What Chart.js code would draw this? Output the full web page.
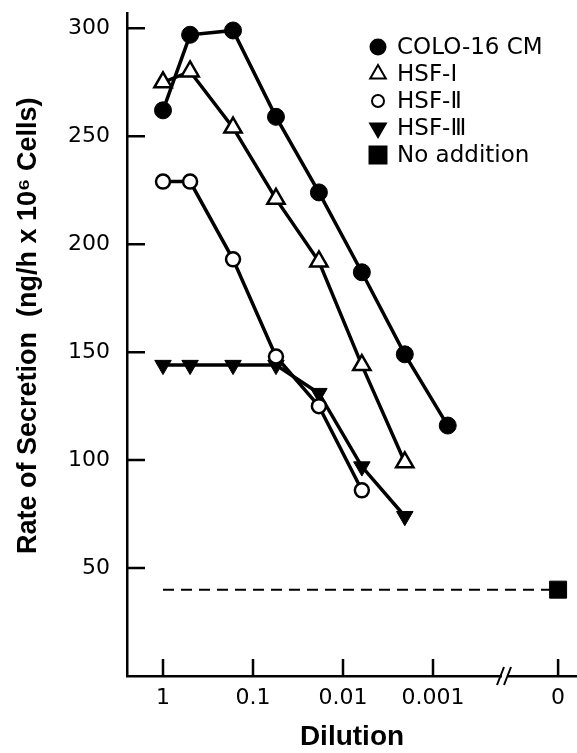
<!DOCTYPE html>
<html>
<head>
<meta charset="utf-8">
<script src="https://cdn.jsdelivr.net/npm/chart.js@4"></script>
<style>
  html, body { margin: 0; padding: 0; background: #fff; }
  canvas { display: block; }
</style>
</head>
<body>
<canvas id="secretionChart" width="577" height="753"></canvas>
<script>
// dilution steps: 1, 1:2, then threefold
const dilutions = [1, 1/2, 1/6, 1/18, 1/54, 1/162, 1/486, 1/1458];
const colo16 = [262, 297, 299, 259, 224, 187, 149, 116];
const hsf1 = [275, 280, 254, 221, 192, 144, 99];
const hsf2 = [229, 229, 193, 148, 125, 86];
const hsf3 = [144, 144, 144, 144, 131, 97, 74];
const noAddition = 40;

const xTickDilutions = [1, 0.1, 0.01, 0.001, 0];
const xTickLabels = ['1', '0.1', '0.01', '0.001', '0'];
const yTicks = [50, 100, 150, 200, 250, 300];

// axis is broken before the "0" dilution
const ZERO_POS = 4.39;
const BREAK_POS = 3.8;

function toX(d) { return d === 0 ? ZERO_POS : -Math.log10(d); }
function pts(values) { return values.map((v, i) => ({ x: toX(dilutions[i]), y: v })); }

const tickFont = { family: 'DejaVu Sans', size: 22 };
const legendFont = '23px "DejaVu Sans"';

const innerTicks = {
  id: 'innerTicks',
  afterDraw(chart) {
    const ctx = chart.ctx;
    const x = chart.scales.x, y = chart.scales.y;
    ctx.save();
    ctx.strokeStyle = '#000';
    ctx.lineWidth = 2.5;
    ctx.beginPath();
    x.ticks.forEach(t => {
      const px = x.getPixelForValue(t.value);
      ctx.moveTo(px, y.bottom);
      ctx.lineTo(px, y.bottom - 17);
    });
    y.ticks.forEach(t => {
      const py = y.getPixelForValue(t.value);
      ctx.moveTo(x.left, py);
      ctx.lineTo(x.left + 18, py);
    });
    ctx.stroke();

    // axis break "//"
    const bx = x.getPixelForValue(BREAK_POS), b = y.bottom;
    ctx.fillStyle = '#fff';
    ctx.fillRect(bx - 3, b - 3, 6, 6);
    ctx.lineWidth = 2;
    ctx.beginPath();
    ctx.moveTo(bx - 8, b + 9); ctx.lineTo(bx - 1, b - 9);
    ctx.moveTo(bx - 1, b + 9); ctx.lineTo(bx + 6, b - 9);
    ctx.stroke();
    ctx.restore();
  }
};

const boxLegend = {
  id: 'boxLegend',
  afterDraw(chart) {
    const ctx = chart.ctx;
    ctx.save();
    ctx.font = legendFont;
    ctx.textBaseline = 'middle';
    ctx.textAlign = 'left';
    chart.data.datasets.forEach((ds, i) => {
      const cy = 47 + i * 27;
      ctx.fillStyle = ds.pointBackgroundColor;
      ctx.strokeStyle = '#000';
      ctx.lineWidth = 2;
      Chart.helpers.drawPoint(ctx, {
        pointStyle: ds.pointStyle,
        rotation: ds.pointRotation || 0,
        radius: ds.legendRadius,
        borderWidth: 2
      }, 378, cy);
      ctx.fillStyle = '#000';
      ctx.fillText(ds.label, 397, cy + 1);
    });
    ctx.restore();
  }
};

const ctx = document.getElementById('secretionChart').getContext('2d');

new Chart(ctx, {
  type: 'line',
  data: {
    datasets: [
      {
        label: 'COLO-16 CM', data: pts(colo16),
        borderColor: '#000', borderWidth: 3.5, tension: 0,
        pointStyle: 'circle', pointRadius: 8.5, pointBackgroundColor: '#000',
        pointBorderColor: '#000', pointBorderWidth: 1, legendRadius: 7.5
      },
      {
        label: 'HSF-Ⅰ', data: pts(hsf1),
        borderColor: '#000', borderWidth: 3.5, tension: 0,
        pointStyle: 'triangle', pointRadius: 10, pointBackgroundColor: '#fff',
        pointBorderColor: '#000', pointBorderWidth: 2.5, legendRadius: 9
      },
      {
        label: 'HSF-Ⅱ', data: pts(hsf2),
        borderColor: '#000', borderWidth: 3.5, tension: 0,
        pointStyle: 'circle', pointRadius: 7, pointBackgroundColor: '#fff',
        pointBorderColor: '#000', pointBorderWidth: 2.5, legendRadius: 6
      },
      {
        label: 'HSF-Ⅲ', data: pts(hsf3),
        borderColor: '#000', borderWidth: 3.5, tension: 0,
        pointStyle: 'triangle', pointRotation: 180, pointRadius: 9.5, pointBackgroundColor: '#000',
        pointBorderColor: '#000', pointBorderWidth: 1, legendRadius: 9
      },
      {
        label: 'No addition',
        data: [{ x: toX(1), y: noAddition }, { x: toX(0), y: noAddition }],
        borderColor: '#000', borderWidth: 2, borderDash: [11, 7],
        pointStyle: 'rect', pointRadius: [0, 12], pointBackgroundColor: '#000',
        pointBorderColor: '#000', pointBorderWidth: 1, legendRadius: 12
      }
    ]
  },
  options: {
    responsive: false,
    animation: false,
    layout: { autoPadding: false, padding: { top: 12, left: 0, right: 0, bottom: 0 } },
    plugins: { legend: { display: false }, tooltip: { enabled: false } },
    scales: {
      x: {
        type: 'linear', min: -0.4, max: 4.6,
        afterBuildTicks: s => { s.ticks = xTickDilutions.map(d => ({ value: toX(d) })); },
        afterFit: s => { s.height = 77; },
        ticks: {
          callback: (v, i) => xTickLabels[i],
          autoSkip: false, maxRotation: 0, padding: 0,
          font: tickFont, color: '#000'
        },
        grid: { drawOnChartArea: false, drawTicks: true, tickLength: 9, tickColor: 'rgba(0,0,0,0)' },
        border: { color: '#000', width: 2.5 },
        title: {
          display: true, text: 'Dilution', color: '#000', padding: 0,
          font: { family: 'Liberation Sans', size: 28, weight: 'bold', lineHeight: 1.15 }
        }
      },
      y: {
        min: 0, max: 307,
        afterBuildTicks: s => { s.ticks = yTicks.map(v => ({ value: v })); },
        afterFit: s => { s.width = 127; },
        ticks: { padding: 0, font: tickFont, color: '#000' },
        grid: { drawOnChartArea: false, drawTicks: true, tickLength: 17, tickColor: 'rgba(0,0,0,0)' },
        border: { color: '#000', width: 2.5 },
        title: {
          display: true, text: '     Rate of Secretion  (ng/h x 10⁶ Cells)', color: '#000', padding: 0,
          font: { family: 'Liberation Sans', size: 27, weight: 'bold', lineHeight: 2.1 }
        }
      }
    }
  },
  plugins: [innerTicks, boxLegend]
});
</script>
</body>
</html>
